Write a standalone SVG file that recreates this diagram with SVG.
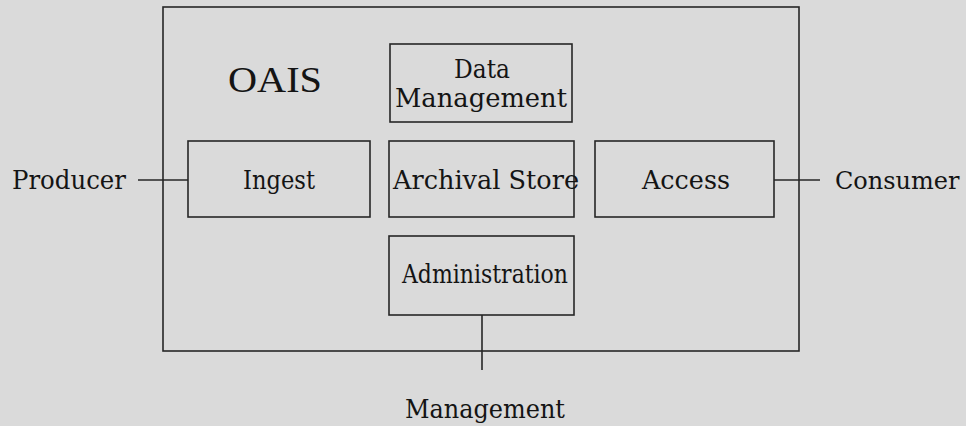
<svg xmlns="http://www.w3.org/2000/svg" width="966" height="426" viewBox="0 0 966 426">
<style>
.box{fill:none;stroke:#262626;stroke-width:1.6}
.ln{stroke:#262626;stroke-width:1.6;fill:none}
.t{font-family:"DejaVu Serif","Liberation Serif",serif;font-size:26px;fill:#141414;text-anchor:middle}
.lt{font-family:"DejaVu Serif","Liberation Serif",serif;font-size:26px;fill:#141414}
.big{font-family:"Liberation Serif",serif;font-size:35px;fill:#141414}
</style>
<rect width="966" height="426" fill="#dadada"/>
<g id="oais">
<rect class="box" x="163" y="7" width="636" height="344"/>
<text class="big" x="228" y="92" textLength="94" lengthAdjust="spacingAndGlyphs">OAIS</text>
</g>
<g id="data-management">
<rect class="box" x="390" y="44" width="182" height="78"/>
<text class="t" x="482" y="78" textLength="56" lengthAdjust="spacingAndGlyphs">Data</text>
<text class="t" x="481" y="107" textLength="172" lengthAdjust="spacingAndGlyphs">Management</text>
</g>
<g id="ingest">
<rect class="box" x="188" y="141" width="182" height="76"/>
<text class="t" x="279" y="189" textLength="72" lengthAdjust="spacingAndGlyphs">Ingest</text>
</g>
<g id="archival-store">
<rect class="box" x="389" y="141" width="185" height="76"/>
<text class="t" x="486" y="189" textLength="186" lengthAdjust="spacingAndGlyphs">Archival Store</text>
</g>
<g id="access">
<rect class="box" x="595" y="141" width="179" height="76"/>
<text class="t" x="686" y="189" textLength="88" lengthAdjust="spacingAndGlyphs">Access</text>
</g>
<g id="administration">
<rect class="box" x="389" y="236" width="185" height="79"/>
<text class="t" x="485" y="283" textLength="166" lengthAdjust="spacingAndGlyphs">Administration</text>
</g>
<g id="producer">
<text class="lt" x="12" y="189" textLength="114" lengthAdjust="spacingAndGlyphs">Producer</text>
</g>
<g id="consumer">
<text class="lt" x="835" y="189" style="font-size:24px">Consumer</text>
</g>
<g id="management">
<text class="t" x="485" y="418" textLength="160" lengthAdjust="spacingAndGlyphs">Management</text>
</g>
<g id="connectors">
<line class="ln" x1="138" y1="180" x2="188" y2="180"/>
<line class="ln" x1="774" y1="180" x2="820" y2="180"/>
<line class="ln" x1="482" y1="315" x2="482" y2="370"/>
</g>
</svg>
